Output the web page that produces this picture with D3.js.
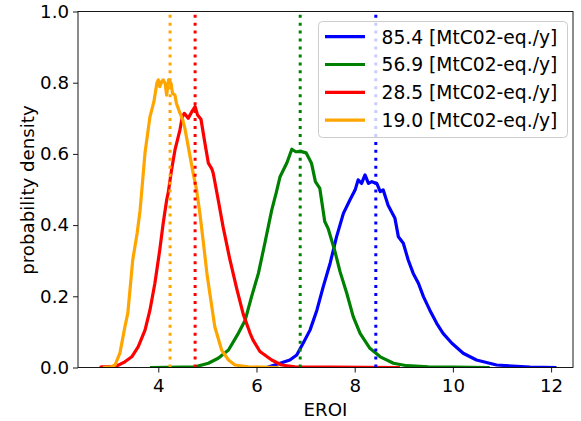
<!DOCTYPE html>
<html>
<head>
<meta charset="utf-8">
<script src="https://cdn.jsdelivr.net/npm/d3@7"></script>
<style>
  html, body { margin: 0; padding: 0; background: #fff; }
  svg { display: block; font-family: "DejaVu Sans", sans-serif; }
</style>
</head>
<body>
<svg id="chart" width="581" height="421"></svg>
<script>
// Probability density of EROI for four emission levels
const seriesLabels = ["85.4 [MtC02-eq./y]", "56.9 [MtC02-eq./y]", "28.5 [MtC02-eq./y]", "19.0 [MtC02-eq./y]"];
const seriesColors = ["blue", "green", "red", "orange"];

const blueX = [6.21, 6.48, 6.68, 6.82, 6.95, 7.09, 7.23, 7.36, 7.50, 7.63, 7.77, 7.90, 8.01, 8.07, 8.14, 8.21, 8.28, 8.35, 8.45, 8.52, 8.58, 8.68, 8.82, 8.89, 8.99, 9.09, 9.19, 9.30, 9.40, 9.53, 9.67, 9.80, 9.98, 10.21, 10.48, 10.89, 11.57, 12.11];
const blueY = [0, 0.012, 0.021, 0.035, 0.068, 0.105, 0.161, 0.227, 0.293, 0.367, 0.433, 0.470, 0.499, 0.527, 0.517, 0.541, 0.517, 0.522, 0.517, 0.494, 0.499, 0.456, 0.419, 0.367, 0.349, 0.302, 0.265, 0.236, 0.199, 0.161, 0.124, 0.096, 0.068, 0.040, 0.021, 0.007, 0.001, 0];

const greenX = [3.83, 4.5, 4.75, 5.02, 5.22, 5.43, 5.63, 5.77, 5.90, 6.04, 6.17, 6.31, 6.40, 6.48, 6.58, 6.62, 6.72, 6.80, 6.90, 7.01, 7.06, 7.12, 7.20, 7.29, 7.39, 7.46, 7.60, 7.70, 7.84, 7.97, 8.11, 8.31, 8.52, 8.79, 9.06, 9.5, 10.0, 10.75];
const greenY = [0, 0.001, 0.002, 0.012, 0.026, 0.049, 0.096, 0.133, 0.199, 0.265, 0.349, 0.442, 0.49, 0.536, 0.564, 0.575, 0.613, 0.606, 0.607, 0.603, 0.59, 0.574, 0.522, 0.503, 0.41, 0.39, 0.325, 0.27, 0.208, 0.143, 0.096, 0.054, 0.030, 0.012, 0.005, 0.002, 0.001, 0];

const redX = [2.81, 2.85, 3.12, 3.32, 3.46, 3.59, 3.73, 3.83, 3.93, 4.03, 4.10, 4.17, 4.20, 4.27, 4.34, 4.44, 4.49, 4.53, 4.61, 4.68, 4.75, 4.80, 4.87, 4.95, 5.02, 5.09, 5.12, 5.22, 5.32, 5.46, 5.60, 5.73, 5.87, 5.93, 6.07, 6.31, 6.51, 6.78, 7.5, 8.92];
const redY = [0, 0.002, 0.002, 0.016, 0.030, 0.058, 0.105, 0.161, 0.236, 0.330, 0.405, 0.47, 0.489, 0.555, 0.611, 0.667, 0.704, 0.714, 0.700, 0.718, 0.733, 0.709, 0.697, 0.630, 0.574, 0.558, 0.545, 0.471, 0.395, 0.302, 0.22, 0.15, 0.096, 0.077, 0.045, 0.021, 0.007, 0.002, 0.001, 0];

const orangeX = [2.87, 3.02, 3.12, 3.22, 3.32, 3.38, 3.48, 3.57, 3.63, 3.73, 3.83, 3.91, 3.97, 4.00, 4.03, 4.07, 4.10, 4.14, 4.17, 4.21, 4.26, 4.29, 4.34, 4.37, 4.44, 4.50, 4.54, 4.65, 4.71, 4.78, 4.85, 4.92, 4.99, 5.05, 5.15, 5.29, 5.43, 5.56, 5.83, 6.10, 6.45];
const orangeY = [0, 0.001, 0.007, 0.041, 0.114, 0.153, 0.302, 0.378, 0.442, 0.603, 0.704, 0.746, 0.798, 0.808, 0.789, 0.803, 0.808, 0.798, 0.765, 0.808, 0.798, 0.770, 0.765, 0.742, 0.715, 0.695, 0.673, 0.591, 0.546, 0.499, 0.430, 0.349, 0.265, 0.208, 0.115, 0.049, 0.021, 0.007, 0.002, 0.001, 0];

// mean EROI of each distribution
const meanEroi = [8.43, 6.89, 4.75, 4.24];

const xTicks = [4, 6, 8, 10, 12];
const yTicks = [0.0, 0.2, 0.4, 0.6, 0.8, 1.0];

const curves = [
  blueX.map((x, i) => [x, blueY[i]]),
  greenX.map((x, i) => [x, greenY[i]]),
  redX.map((x, i) => [x, redY[i]]),
  orangeX.map((x, i) => [x, orangeY[i]])
];

const fontSize = 18.2;
const legendFontSize = 18.7;
const plot = { left: 78, right: 573, top: 11.5, bottom: 367.5 };

const svg = d3.select("#chart");
const x = d3.scaleLinear().domain([2.365, 12.446]).range([plot.left, plot.right]);
const y = d3.scaleLinear().domain([0, 1]).range([plot.bottom, plot.top]);

svg.append("defs").append("clipPath").attr("id", "plot-clip")
  .append("rect")
  .attr("x", plot.left).attr("y", plot.top)
  .attr("width", plot.right - plot.left).attr("height", plot.bottom - plot.top);

const layer = svg.append("g").attr("clip-path", "url(#plot-clip)");
const line = d3.line().x(d => x(d[0])).y(d => y(d[1]));

curves.forEach((pts, i) => {
  layer.append("path")
    .datum(pts)
    .attr("d", line)
    .attr("fill", "none")
    .attr("stroke", seriesColors[i])
    .attr("stroke-width", 3.2)
    .attr("stroke-linejoin", "round");
});

meanEroi.forEach((m, i) => {
  layer.append("line")
    .attr("x1", x(m)).attr("x2", x(m))
    .attr("y1", y(0)).attr("y2", y(1))
    .attr("stroke", seriesColors[i])
    .attr("stroke-width", 3)
    .attr("stroke-dasharray", "3,4.95");
});

// axes
const xAxis = svg.append("g")
  .attr("transform", `translate(0,${plot.bottom})`)
  .call(d3.axisBottom(x).tickValues(xTicks).tickFormat(d3.format("d")).tickSize(5).tickPadding(6.5));
const yAxis = svg.append("g")
  .attr("transform", `translate(${plot.left},0)`)
  .call(d3.axisLeft(y).tickValues(yTicks).tickFormat(d3.format(".1f")).tickSize(5).tickPadding(4));

[xAxis, yAxis].forEach(g => {
  g.select(".domain").remove();
  g.selectAll(".tick line").attr("stroke", "#000").attr("stroke-width", 0.9);
  g.selectAll(".tick text")
    .attr("fill", "#000")
    .style("font-family", "'DejaVu Sans', sans-serif")
    .style("font-size", fontSize + "px");
});

// frame
svg.append("rect")
  .attr("x", plot.left).attr("y", plot.top)
  .attr("width", plot.right - plot.left).attr("height", plot.bottom - plot.top)
  .attr("fill", "none")
  .attr("stroke", "#000")
  .attr("stroke-width", 0.9);

// axis titles
svg.append("text")
  .attr("x", (plot.left + plot.right) / 2)
  .attr("y", 416)
  .attr("text-anchor", "middle")
  .style("font-size", fontSize + "px")
  .text("EROI");

svg.append("text")
  .attr("transform", `translate(34,190) rotate(-90)`)
  .attr("text-anchor", "middle")
  .style("font-size", fontSize + "px")
  .text("probability density");

// legend
const legend = svg.append("g");
legend.append("rect")
  .attr("x", 318.5).attr("y", 21.5)
  .attr("width", 249).attr("height", 116)
  .attr("rx", 4).attr("ry", 4)
  .attr("fill", "#fff").attr("fill-opacity", 0.8)
  .attr("stroke", "#ccc").attr("stroke-width", 1);

seriesLabels.forEach((label, i) => {
  const rowY = 36.7 + i * 27.8;
  legend.append("line")
    .attr("x1", 325).attr("x2", 365)
    .attr("y1", rowY).attr("y2", rowY)
    .attr("stroke", seriesColors[i])
    .attr("stroke-width", 3.2);
  legend.append("text")
    .attr("x", 381.5)
    .attr("y", rowY + 6.8)
    .style("font-size", legendFontSize + "px")
    .text(label);
});
</script>
</body>
</html>
